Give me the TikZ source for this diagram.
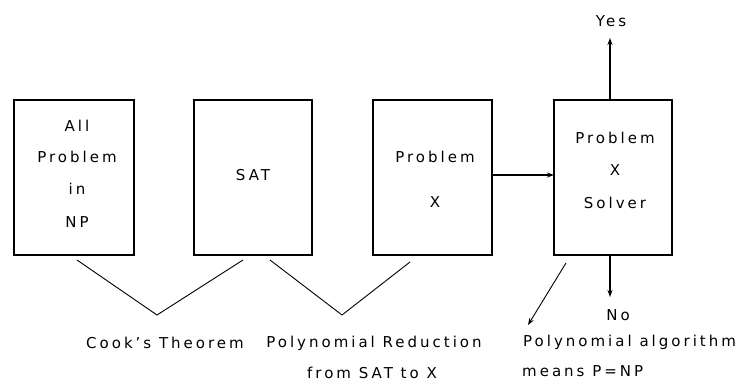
\documentclass[tikz,border=0pt]{standalone}
\usepackage{fontspec}
\setmainfont{DejaVu Sans}[LetterSpace=20]
\usetikzlibrary{arrows.meta}
\begin{document}
\begin{tikzpicture}[x=1pt,y=-1pt,
  box/.style={draw,line width=1.6pt,rectangle},
  lbl/.style={font=\fontsize{15}{17}\selectfont,inner sep=0pt},
  conn/.style={line width=0.9pt},
  arr/.style={line width=1.2pt,-{Stealth[length=7pt,width=5pt]}}]
\useasboundingbox (0,0) rectangle (740,384);
% boxes
\draw[box] (14,100) rectangle (134,255);
\draw[box] (194,100) rectangle (312,255);
\draw[box] (373,100) rectangle (492,255);
\draw[box] (554,100) rectangle (672,255);
\coordinate (b3e) at (492,175);
\coordinate (b4w) at (554,175);
\coordinate (b4n) at (610,100);
\coordinate (b4s) at (610,255);
% texts in boxes
\node[lbl] (t1a) at (77,126) {All};
\node[lbl] (t1b) at (77,157) {Problem};
\node[lbl] (t1c) at (77,189) {in};
\node[lbl] (t1d) at (77,222) {NP};
\node[lbl] (t2) at (253,175) {SAT};
\node[lbl] (t3a) at (435,157) {Problem};
\node[lbl] (t3b) at (435,202) {X};
\node[lbl] (t4a) at (615,138) {Problem};
\node[lbl] (t4b) at (615,170) {X};
\node[lbl] (t4c) at (615,203) {Solver};
% outputs
\node[lbl] (yes) at (611,21) {Yes};
\node[lbl] (no) at (618,315) {No};
\coordinate (yesend) at (610,38);
\coordinate (noend) at (610,297);
\draw[arr] (b3e) -- (b4w);
\draw[arr] (b4n) -- (yesend);
\draw[arr] (b4s) -- (noend);
% V connectors
\coordinate (v1a) at (77,260);
\coordinate (v1m) at (157,315);
\coordinate (v1b) at (243,260);
\coordinate (v2a) at (270,260);
\coordinate (v2m) at (342,315);
\coordinate (v2b) at (410,262);
\draw[conn] (v1a) -- (v1m) -- (v1b);
\draw[conn] (v2a) -- (v2m) -- (v2b);
% diagonal arrow
\coordinate (d1) at (566,263);
\coordinate (d2) at (528,325);
\draw[conn,-{Stealth[length=7pt,width=5pt]}] (d1) -- (d2);
% bottom labels
\node[lbl] (cook) at (165,343) {Cook's Theorem};
\node[lbl] (red1) at (374,343) {Polynomial Reduction};
\node[lbl] (red2) at (372,373) {from SAT to X};
\node[lbl,anchor=west] (poly1) at (523,342) {Polynomial algorithm};
\node[lbl,anchor=west] (poly2) at (522,371) {means P=NP};
\end{tikzpicture}
\end{document}
